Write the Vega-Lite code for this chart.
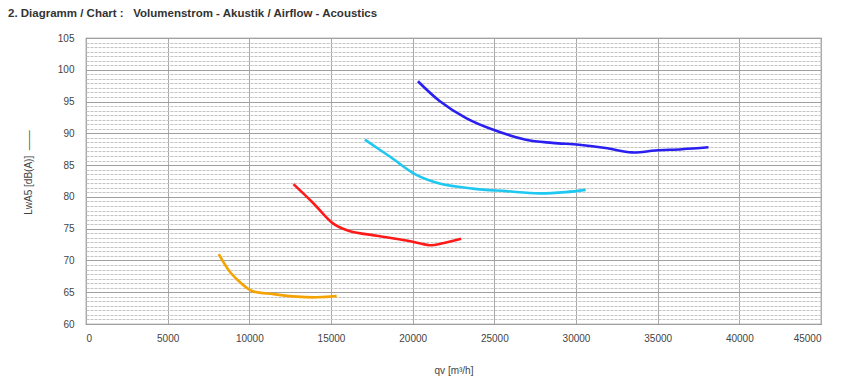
{
  "$schema": "https://vega.github.io/schema/vega-lite/v6.json",
  "width": 735,
  "height": 286,
  "autosize": "none",
  "padding": {"left": 86, "top": 38, "right": 45, "bottom": 58},
  "background": "white",
  "config": {
    "font": "Liberation Sans",
    "view": {"stroke": "#808080", "strokeWidth": 1.2}
  },
  "title": {
    "text": "2. Diagramm / Chart :\u00a0\u00a0\u00a0Volumenstrom - Akustik / Airflow - Acoustics",
    "anchor": "start",
    "frame": "group",
    "dx": -78,
    "offset": 14,
    "fontSize": 11.5,
    "fontWeight": "bold",
    "color": "#333333",
    "font": "Liberation Sans"
  },
  "data": {
    "values": [
      {"series": "A", "q": 8130, "lw": 71.0},
      {"series": "A", "q": 8841, "lw": 68.1},
      {"series": "A", "q": 9553, "lw": 66.3},
      {"series": "A", "q": 10163, "lw": 65.2},
      {"series": "A", "q": 11484, "lw": 64.7},
      {"series": "A", "q": 12906, "lw": 64.3},
      {"series": "A", "q": 14128, "lw": 64.2},
      {"series": "A", "q": 15348, "lw": 64.4},
      {"series": "B", "q": 12703, "lw": 82.0},
      {"series": "B", "q": 13921, "lw": 79.0},
      {"series": "B", "q": 15140, "lw": 75.8},
      {"series": "B", "q": 16159, "lw": 74.6},
      {"series": "B", "q": 17787, "lw": 73.9},
      {"series": "B", "q": 19616, "lw": 73.15},
      {"series": "B", "q": 21037, "lw": 72.4},
      {"series": "B", "q": 21848, "lw": 72.7},
      {"series": "B", "q": 22970, "lw": 73.4},
      {"series": "C", "q": 17073, "lw": 89.0},
      {"series": "C", "q": 18598, "lw": 86.35},
      {"series": "C", "q": 20226, "lw": 83.45},
      {"series": "C", "q": 21646, "lw": 82.1},
      {"series": "C", "q": 23677, "lw": 81.3},
      {"series": "C", "q": 25713, "lw": 80.9},
      {"series": "C", "q": 27744, "lw": 80.55},
      {"series": "C", "q": 29372, "lw": 80.75},
      {"series": "C", "q": 30591, "lw": 81.1},
      {"series": "D", "q": 20323, "lw": 98.2},
      {"series": "D", "q": 21646, "lw": 95.1},
      {"series": "D", "q": 23274, "lw": 92.4},
      {"series": "D", "q": 24896, "lw": 90.6},
      {"series": "D", "q": 26933, "lw": 89.0},
      {"series": "D", "q": 28555, "lw": 88.5},
      {"series": "D", "q": 30183, "lw": 88.2},
      {"series": "D", "q": 31811, "lw": 87.7},
      {"series": "D", "q": 33433, "lw": 87.0},
      {"series": "D", "q": 34860, "lw": 87.3},
      {"series": "D", "q": 36482, "lw": 87.5},
      {"series": "D", "q": 38110, "lw": 87.8}
    ]
  },
  "mark": {"type": "line", "interpolate": "catmull-rom", "strokeWidth": 2.6, "clip": true},
  "encoding": {
    "x": {
      "field": "q",
      "type": "quantitative",
      "scale": {"domain": [0, 45000], "nice": false, "zero": false},
      "axis": {
        "values": [0, 5000, 10000, 15000, 20000, 25000, 30000, 35000, 40000, 45000],
        "format": "d",
        "title": "qv [m³/h]",
        "titleFontSize": 10,
        "titleFontWeight": "normal",
        "titleColor": "#444444",
        "titlePadding": 22,
        "labelFontSize": 10,
        "labelColor": "#444444",
        "labelPadding": 9,
        "ticks": false,
        "domain": false,
        "grid": true,
        "gridColor": "#a8a8a8",
        "gridWidth": 1
      }
    },
    "y": {
      "field": "lw",
      "type": "quantitative",
      "scale": {"domain": [60, 105], "nice": false, "zero": false},
      "axis": {
        "values": [60, 60.714, 61.429, 62.143, 62.857, 63.571, 64.286, 65, 65.714, 66.429, 67.143, 67.857, 68.571, 69.286, 70, 70.714, 71.429, 72.143, 72.857, 73.571, 74.286, 75, 75.714, 76.429, 77.143, 77.857, 78.571, 79.286, 80, 80.714, 81.429, 82.143, 82.857, 83.571, 84.286, 85, 85.714, 86.429, 87.143, 87.857, 88.571, 89.286, 90, 90.714, 91.429, 92.143, 92.857, 93.571, 94.286, 95, 95.714, 96.429, 97.143, 97.857, 98.571, 99.286, 100, 100.714, 101.429, 102.143, 102.857, 103.571, 104.286, 105],
        "labelExpr": "abs(datum.value - round(datum.value / 5) * 5) < 0.01 ? format(datum.value, 'd') : ''",
        "title": "LwA5 [dB(A)]\u00a0\u00a0——",
        "titleFontSize": 10,
        "titleFontWeight": "normal",
        "titleColor": "#444444",
        "titleY": 134,
        "titlePadding": 24,
        "labelFontSize": 10,
        "labelColor": "#444444",
        "labelPadding": 12,
        "ticks": false,
        "domain": false,
        "grid": true,
        "gridColor": {"condition": {"test": "abs(datum.value - round(datum.value / 5) * 5) < 0.01", "value": "#a0a0a0"}, "value": "#c4c4c4"},
        "gridDash": {"condition": {"test": "abs(datum.value - round(datum.value / 5) * 5) < 0.01", "value": []}, "value": [3, 1]},
        "gridWidth": 1
      }
    },
    "color": {
      "field": "series",
      "type": "nominal",
      "scale": {"domain": ["A", "B", "C", "D"], "range": ["#f5a300", "#ff1a1a", "#1ec8f0", "#2a1ff0"]},
      "legend": null
    }
  }
}
